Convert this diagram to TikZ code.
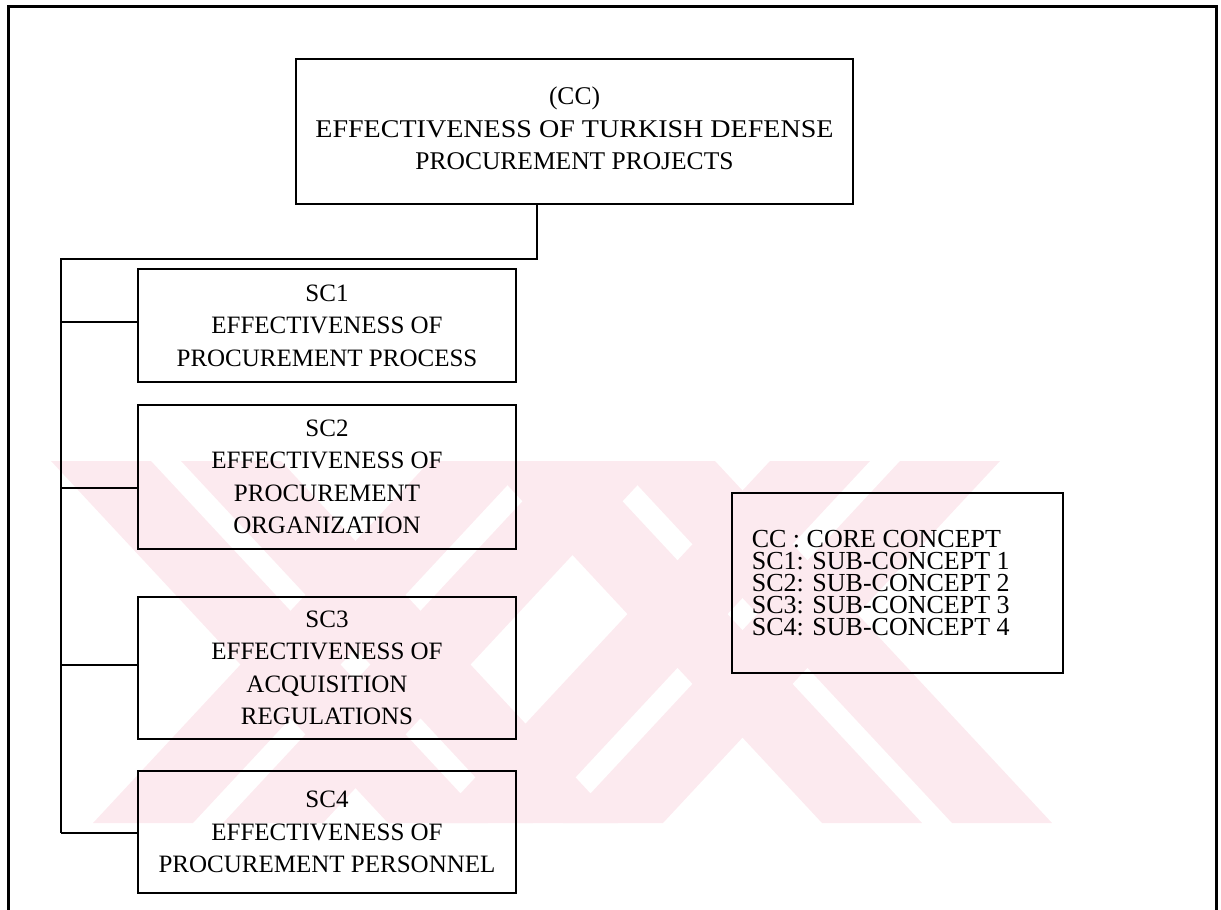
\documentclass[tikz,border=0pt]{standalone}
\usepackage{fontspec}
\setmainfont{Liberation Serif}
\definecolor{wmpink}{RGB}{252,234,239}
\tikzset{
  conceptbox/.style={draw, line width=2.8pt, align=center, inner sep=0pt,
    font=\fontsize{25}{32.5}\selectfont, minimum width=378pt},
  link/.style={line width=2.6pt},
  frame/.style={line width=3pt},
  band/.style={fill=wmpink}
}
\begin{document}
\begin{tikzpicture}[x=1pt,y=-1pt]
\useasboundingbox (0,0) rectangle (1221,910);

% faint background mark: two crossings of double diagonal strips
\begin{scope}
  \clip (40,461) rectangle (1075,823);
  % each entry: left x of the strip at the top, strip direction (1 = falling right, -1 = falling left)
  \foreach \lx/\d in {51/1, 181/1, 430/-1, 560/-1, 485/1, 615/1, 770/-1, 900/-1} {
    \fill[band] (\lx,461) -- ({\lx+100},461) -- ({\lx+100+\d*337},823) -- ({\lx+\d*337},823) -- cycle;
  }
\end{scope}

% page frame, open at the bottom
\draw[frame] (8,910) -- (8,6) -- (1216,6) -- (1216,910);

% core concept (text sits a little above the box centre)
\node[conceptbox, minimum width=557pt, minimum height=145pt] (cc) at (574.5,131.5) {};
\node[align=center, inner sep=0pt, font=\fontsize{25.5}{32.5}\selectfont] (cctext) at ([yshift=3pt]cc.center)
  {(CC)\\\scalebox{1.1}[1]{EFFECTIVENESS OF TURKISH DEFENSE}\\PROCUREMENT PROJECTS};

% sub-concepts
\node[conceptbox, minimum height=113pt] (sc1) at (327,325.5)
  {SC1\\EFFECTIVENESS OF\\PROCUREMENT PROCESS};
\node[conceptbox, minimum height=144pt] (sc2) at (327,477)
  {SC2\\EFFECTIVENESS OF\\PROCUREMENT\\ORGANIZATION};
\node[conceptbox, minimum height=142pt] (sc3) at (327,668)
  {SC3\\EFFECTIVENESS OF\\ACQUISITION\\REGULATIONS};
\node[conceptbox, minimum height=122pt] (sc4) at (327,832)
  {SC4\\EFFECTIVENESS OF\\PROCUREMENT PERSONNEL};

% legend
\node[draw, line width=2.8pt, minimum width=331pt, minimum height=180pt, inner sep=0pt] (legend) at (897.5,583) {};
\node[anchor=west, align=left, inner sep=0pt, font=\fontsize{26}{22}\selectfont] (legendtext)
  at ([xshift=21pt]legend.west)
  {CC : CORE CONCEPT\\SC1: SUB-CONCEPT 1\\SC2: SUB-CONCEPT 2\\SC3: SUB-CONCEPT 3\\SC4: SUB-CONCEPT 4};

% tree connectors
\coordinate (drop) at ([xshift=-37.5pt]cc.south);
\coordinate (trunktop) at (61,259);
\coordinate (trunkbot) at (61,833);
\draw[link] (drop) -- (drop |- trunktop) -- (trunktop) -- (trunkbot);
\coordinate (j1) at ([yshift=3.5pt]sc1.west);
\coordinate (j2) at ([yshift=-11pt]sc2.west);
\coordinate (j3) at ([yshift=3pt]sc3.west);
\coordinate (j4) at ([yshift=-1pt]sc4.west);
\foreach \j in {j1,j2,j3,j4}
  \draw[link] (trunktop |- \j) -- (\j);
\end{tikzpicture}
\end{document}
